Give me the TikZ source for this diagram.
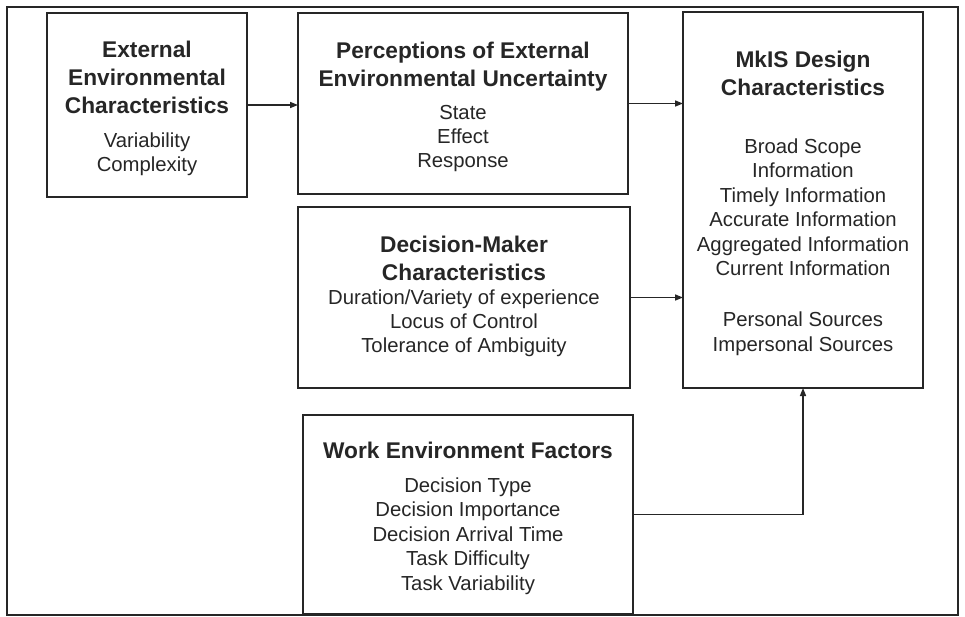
\documentclass[tikz,border=0pt]{standalone}
\usepackage{fontspec}
\setmainfont{Liberation Sans}
\usetikzlibrary{arrows.meta}
\definecolor{ink}{HTML}{262626}
\begin{document}
\begin{tikzpicture}[x=1pt,y=-1pt,
  box/.style={draw=ink,line width=1.7pt,inner sep=0pt,outer sep=0pt,anchor=north west},
  ttl/.style={anchor=base,inner sep=0pt,text=ink,font=\fontsize{22.7}{27}\selectfont\bfseries},
  bdy/.style={anchor=base,inner sep=0pt,text=ink,font=\fontsize{20.3}{24}\selectfont},
  arr/.style={draw=ink,line width=1.5pt,-{Triangle[length=8pt,width=6pt]}}]
\useasboundingbox (0,0) rectangle (965,616);
\fill[white] (0,0) rectangle (965,616);
% frame
\node[box,line width=2pt,minimum width=951pt,minimum height=607.5pt] (frame) at (7,7) {};
% boxes
\node[box,minimum width=200pt,minimum height=184pt] (ext) at (47,13) {};
\node[box,minimum width=330pt,minimum height=181pt] (perc) at (298,13) {};
\node[box,minimum width=332pt,minimum height=181pt] (dec) at (298,207) {};
\node[box,minimum width=240pt,minimum height=376pt] (mkis) at (683,12) {};
\node[box,minimum width=330pt,minimum height=199pt] (work) at (303,415) {};
% box 1 text
\node[ttl] (e1) at (147,57) {External};
\node[ttl] (e2) at (147,85) {Environmental};
\node[ttl] (e3) at (147,113) {Characteristics};
\node[bdy] (e4) at (147,147) {Variability};
\node[bdy] (e5) at (147,171) {Complexity};
% box 2 text
\node[ttl] (p1) at (463,58) {Perceptions of External};
\node[ttl] (p2) at (463,86) {Environmental Uncertainty};
\node[bdy] (p3) at (463,119) {State};
\node[bdy] (p4) at (463,143) {Effect};
\node[bdy] (p5) at (463,167) {Response};
% decision text
\node[ttl] (d1) at (464,252) {Decision-Maker};
\node[ttl] (d2) at (464,280) {Characteristics};
\node[bdy] (d3) at (464,304) {Duration/Variety of experience};
\node[bdy] (d4) at (464,328) {Locus of Control};
\node[bdy] (d5) at (464,352) {Tolerance of Ambiguity};
% mkis text
\node[ttl] (m1) at (803,67) {MkIS Design};
\node[ttl] (m2) at (803,95) {Characteristics};
\node[bdy] (m3) at (803,153) {Broad Scope};
\node[bdy] (m4) at (803,177) {Information};
\node[bdy] (m5) at (803,202) {Timely Information};
\node[bdy] (m6) at (803,226) {Accurate Information};
\node[bdy] (m7) at (803,251) {Aggregated Information};
\node[bdy] (m8) at (803,275) {Current Information};
\node[bdy] (m9) at (803,326) {Personal Sources};
\node[bdy] (m10) at (803,351) {Impersonal Sources};
% work text
\node[ttl] (w1) at (468,458) {Work Environment Factors};
\node[bdy] (w2) at (468,492) {Decision Type};
\node[bdy] (w3) at (468,516.5) {Decision Importance};
\node[bdy] (w4) at (468,541) {Decision Arrival Time};
\node[bdy] (w5) at (468,565.5) {Task Difficulty};
\node[bdy] (w6) at (468,590) {Task Variability};
% connectors
\draw[arr] (ext.east) -- (ext.east -| perc.west);
\draw[arr] (perc.east) -- (perc.east -| mkis.west);
\draw[arr] (dec.east) -- (dec.east -| mkis.west);
\draw[arr] (work.east) -| (mkis.south);
\end{tikzpicture}
\end{document}
